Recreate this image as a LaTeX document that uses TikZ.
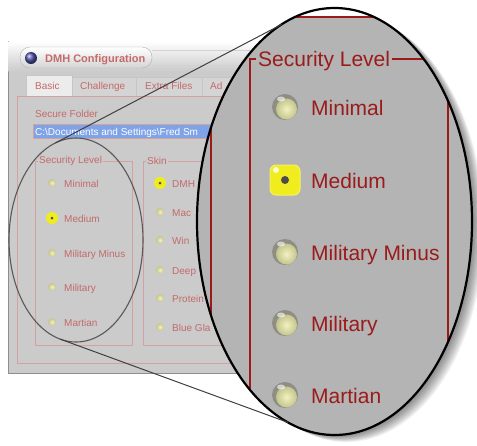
\documentclass[tikz,border=0pt]{standalone}
\usepackage{fontspec}
\setmainfont{Liberation Sans}
\usetikzlibrary{calc}
\usetikzlibrary{shapes.geometric}

\definecolor{uired}{HTML}{9B1B1B}
\definecolor{uifade}{HTML}{C46A6A}
\definecolor{uiline}{HTML}{D2A2A2}
\definecolor{lensgray}{HTML}{B4B4B4}
\definecolor{wingray}{HTML}{CBCBCB}
\definecolor{winedge}{HTML}{8E8E8E}
\definecolor{tabgray}{HTML}{D4D4D4}
\definecolor{selblue}{HTML}{7EA3E6}
\definecolor{knobrim}{HTML}{8E8E84}
\definecolor{knoblite}{HTML}{F2F2C0}
\definecolor{knobmid}{HTML}{C4C48E}
\definecolor{selyellow}{HTML}{F0EC1E}

\tikzset{
 uitxt/.style={font=\fontsize{10}{12}\selectfont, text=uifade, inner sep=0pt, anchor=base west},
 lenstxt/.style={font=\fontsize{21}{25}\selectfont, text=uired, inner sep=0pt, anchor=base west},
 uibox/.style={draw=uiline, line width=.8pt},
 lensbox/.style={draw=uired, line width=1.6pt},
 spotrim/.style={ellipse, draw=black!65, line width=1.1pt, inner sep=0pt, outer sep=0pt},
}

\begin{document}
\begin{tikzpicture}[x=1pt,y=-1pt]
\useasboundingbox (0,0) rectangle (477,445);
\fill[white] (0,0) rectangle (477,445);

\draw[winedge, fill=wingray] (8,41) rectangle (340,373);
\shade[top color=white, bottom color=wingray] (8.5,41.5) rectangle (339.5,71);
\draw[gray!40] (8.5,71) -- (339.5,71);
\draw[gray!60, top color=white, bottom color=tabgray, rounded corners=10] (20,47) rectangle (152,68);
\draw[gray!35] (152,50) -- (339.5,50) (152,65) -- (339.5,65);
\shade[ball color=blue!35!gray] (31,58) circle (6);
\node[uitxt, font=\bfseries\fontsize{11}{13}\selectfont, text=uifade] (title) at (45,62) {DMH Configuration};

\foreach \a/\b in {72/136, 136/202, 202/270}
 \draw[gray!45, fill=tabgray] (\a,77) rectangle (\b,96);
\draw[gray!45, fill=white!55!tabgray] (26,75) rectangle (72,96);
\foreach \x/\t [count=\i] in {35/Basic, 80/Challenge, 145/Extra Files, 210/Ad}
 \node[uitxt] (tab\i) at (\x,89) {\t};

\draw[uibox] (17,96) rectangle (340,363);
\node[uitxt] (folder) at (35,117) {Secure Folder};
\draw[uibox, fill=selblue] (33,124) rectangle (340,138);
\node[uitxt, text=white] (path) at (35,135) {C:\textbackslash Documents and Settings\textbackslash Fred Sm};

\draw[uibox] (35,161) rectangle (132,345);
\node[uitxt, anchor=west, fill=wingray, inner xsep=1pt] (secgrp) at (38,161) {Security Level};
\draw[uibox] (143,161) rectangle (340,345);
\node[uitxt, anchor=west, fill=wingray, inner xsep=1pt] (skingrp) at (146,161) {Skin};

\foreach \y/\t [count=\i] in {183/Minimal, 218/Medium, 253/Military Minus, 287/Military, 322/Martian} {
 \shade[inner color=knoblite, outer color=knobmid] (52,\y) circle (4);
 \node[uitxt] (sec\i) at (64,\y+4) {\t};
}
\fill[selyellow] (52,218) circle (6);
\fill[black!70] (52,218) circle (1.5);

\foreach \y/\t [count=\i] in {183/DMH, 212/Mac, 240/Win, 270/Deep, 298/Protein, 327/Blue Gla} {
 \shade[inner color=knoblite, outer color=knobmid] (160,\y) circle (4);
 \node[uitxt] (skin\i) at (172,\y+4) {\t};
}
\fill[selyellow] (160,183) circle (6);
\fill[black!70] (160,183) circle (1.5);

\node[spotrim, minimum width=134pt, minimum height=204pt] (spot) at (76,240) {};

\foreach \k in {1,...,10}
 \fill[black, opacity=.055] (334.5+1.2*\k,221.5+0.7*\k) ellipse [x radius=137.5, y radius=213.5];

\begin{scope}
\clip (334.5,221.5) ellipse [x radius=137.5, y radius=213.5];
\fill[lensgray] (190,0) rectangle (480,450);
\fill[white] (190,0) rectangle (480,17);
\draw[lensbox] (190,17) -- (480,17);
\draw[lensbox] (211,0) -- (211,450);
\draw[lensbox] (250,450) -- (250,59) -- (448,59) -- (448,450);
\node[lenstxt, anchor=west, fill=lensgray, inner xsep=2pt] (seclvl) at (256,61) {Security Level};
\foreach \y/\t [count=\i] in {107/Minimal, 180/Medium, 252/Military Minus, 323/Military, 395/Martian} {
 \fill[knobrim] (285,\y) circle (13);
 \shade[inner color=knoblite, outer color=knobmid] (286.5,\y+2) circle (10.5);
 \fill[white, opacity=.6] (281,\y-8) ellipse [x radius=4, y radius=2.5];
 \node[lenstxt] (opt\i) at (311,\y+8) {\t};
}
\draw[selyellow!70!white, fill=selyellow, line width=1pt, rounded corners=6] (270,165) rectangle (300,195);
\fill[white, opacity=.8] (276,170) circle (3);
\fill[black!70] (285,180) circle (4);
\end{scope}

\node[ellipse, draw=black, line width=2.2pt, inner sep=0pt, outer sep=0pt, minimum width=275pt, minimum height=427pt] (lens) at (334.5,221.5) {};

\draw[black!75, line width=1pt] (spot.102) -- (lens.105.6);
\draw[black!75, line width=1pt] (spot.261.4) -- (lens.257.4);
\end{tikzpicture}
\end{document}
